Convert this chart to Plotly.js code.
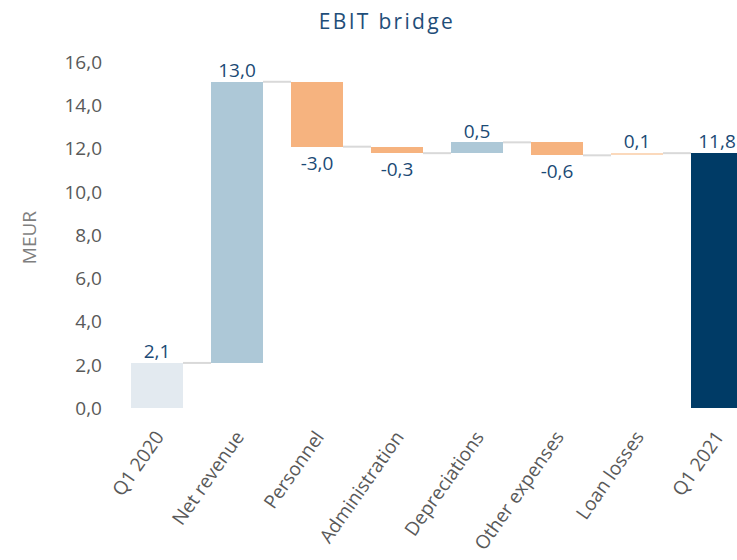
<!DOCTYPE html>
<html><head><meta charset="utf-8">
<script src="https://cdn.plot.ly/plotly-3.0.1.min.js"></script>
<style>html,body{margin:0;padding:0;background:#fff}#chart{width:737px;height:560px}
.gtitle{letter-spacing:2.3px}</style>
</head><body><div id="chart"></div>
<script>
const categories = ["Q1 2020","Net revenue","Personnel","Administration","Depreciations","Other expenses","Loan losses","Q1 2021"];
const values = [2.1, 13.0, -3.0, -0.3, 0.5, -0.6, 0.1, 11.8];
const measures = ["absolute","relative","relative","relative","relative","relative","relative","total"];
const barColors = ["#e3eaf0","#adc8d7","#f6b37f","#f6b37f","#adc8d7","#f6b37f","#fbd9bc","#003b66"];

// compute bases and levels
const bases = [], deltas = [], levels = [];
let level = 0;
values.forEach((v,i)=>{
  if(measures[i]==="absolute"){ bases.push(0); deltas.push(v); level = v; }
  else if(measures[i]==="total"){ bases.push(0); deltas.push(level); }
  else { bases.push(level); deltas.push(v); level += v; }
  levels.push(level);
});
const xs = categories.map((c,i)=>i);
const halfW = 0.325;
const labels = values.map(v=>v.toFixed(1).replace('.',','));
const ends = bases.map((b,i)=>b+deltas[i]);

const labelFont = {family:'Open Sans',size:19,color:'#1b4a75'};
const traces = [];
// connectors
for(let i=0;i<categories.length-1;i++){
  traces.push({type:'scatter',mode:'lines',x:[xs[i]+halfW, xs[i+1]-halfW],y:[levels[i],levels[i]],
    line:{color:'#d9d9d9',width:2},hoverinfo:'skip',showlegend:false,cliponaxis:false});
}
traces.push({
  type:'bar', x:xs, y:deltas, base:bases, width:2*halfW,
  marker:{color:barColors,line:{width:0}},
  text:labels.map((t,i)=>values[i]<0?t:''), textposition:'outside', cliponaxis:false,
  textfont:labelFont,
  showlegend:false, hoverinfo:'skip'
});
// labels for positive bars, sitting on the bar top
const posIdx = xs.filter(i=>values[i]>=0);
traces.push({
  type:'scatter', mode:'text', x:posIdx, y:posIdx.map(i=>ends[i]),
  text:posIdx.map(i=>labels[i]), textposition:'top center', cliponaxis:false,
  textfont:labelFont, showlegend:false, hoverinfo:'skip'
});

const layout = {
  width:737, height:560,
  margin:{l:109,r:0,t:58,b:143},
  paper_bgcolor:'#fff', plot_bgcolor:'#fff',
  separators:', ',
  title:{text:'EBIT bridge', x:0.525, xanchor:'center', y:0.961, yanchor:'middle',
    font:{family:'Open Sans',size:21,color:'#1f4e79'}},
  xaxis:{range:[-0.6,7.25], tickvals:xs, ticktext:categories, tickangle:-55,
    showgrid:false, zeroline:false, showline:false, ticks:'', automargin:false,
    ticklabelstandoff:4,
    tickfont:{family:'Open Sans',size:19,color:'#595959'}},
  yaxis:{range:[-0.4,16.2], tickvals:[0,2,4,6,8,10,12,14,16], tickformat:'.1f',
    showgrid:false, zeroline:false, showline:false, ticks:'', automargin:false,
    ticklabelstandoff:6,
    tickfont:{family:'Open Sans',size:19,color:'#595959'},
    title:{text:'MEUR', standoff:22, font:{family:'Open Sans',size:19,color:'#7f7f7f'}}},
  bargap:0
};
Plotly.newPlot('chart', traces, layout, {staticPlot:true,displayModeBar:false});
</script></body></html>
